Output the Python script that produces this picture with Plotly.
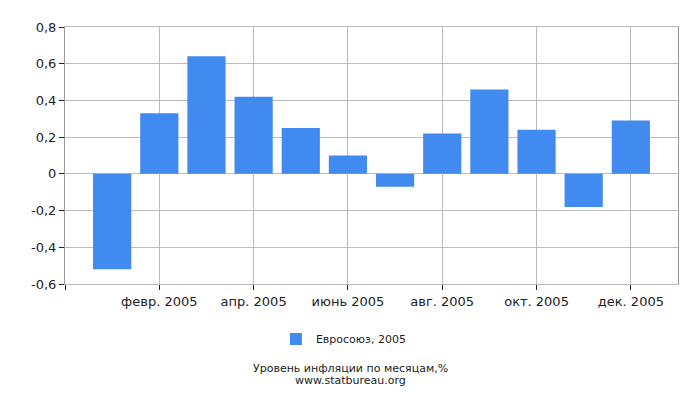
import plotly.graph_objects as go

# Monthly inflation, EU, 2005 (%)
months = ['янв. 2005', 'февр. 2005', 'март 2005', 'апр. 2005', 'май 2005', 'июнь 2005',
          'июль 2005', 'авг. 2005', 'сент. 2005', 'окт. 2005', 'нояб. 2005', 'дек. 2005']
values = [-0.52, 0.33, 0.64, 0.42, 0.25, 0.10, -0.07, 0.22, 0.46, 0.24, -0.18, 0.29]

y_ticks = [-0.6, -0.4, -0.2, 0, 0.2, 0.4, 0.6, 0.8]
y_ticktext = ['-0,6', '-0,4', '-0,2', '0', '0,2', '0,4', '0,6', '0,8']

series_name = 'Евросоюз, 2005'
bar_color = '#418bf0'
font_family = 'DejaVu Sans'

x_pos = list(range(len(months)))
x_ticks = [-1] + x_pos[1::2]
x_ticktext = [''] + months[1::2]

fig = go.Figure()
fig.add_trace(go.Bar(
    x=x_pos,
    y=values,
    name=series_name,
    marker=dict(color=bar_color, line=dict(width=0)),
    width=0.81,
    showlegend=True,
))

# page has an 8px body margin, so the figure is 16px smaller than the window
fig.update_layout(
    width=684,
    height=384,
    paper_bgcolor='white',
    plot_bgcolor='white',
    margin=dict(l=57, r=14, t=14, b=108),
    font=dict(family=font_family, size=13, color='#222222'),
    showlegend=True,
    legend=dict(
        orientation='h',
        x=0.455, xanchor='center',
        y=-0.214, yanchor='middle',
        font=dict(size=11),
        bgcolor='rgba(0,0,0,0)',
    ),
    xaxis=dict(
        range=[-1, 12],
        tickmode='array',
        tickvals=x_ticks,
        ticktext=x_ticktext,
        showgrid=True,
        gridcolor='#bbbbbb',
        gridwidth=1,
        showline=True,
        linecolor='#bbbbbb',
        mirror=True,
        ticks='outside',
        ticklen=5,
        tickcolor='#222222',
        zeroline=False,
        tickfont=dict(size=13),
    ),
    yaxis=dict(
        range=[-0.6, 0.8],
        tickmode='array',
        tickvals=y_ticks,
        ticktext=y_ticktext,
        showgrid=True,
        gridcolor='#bbbbbb',
        gridwidth=1,
        showline=True,
        linecolor='#999999',
        mirror=True,
        ticks='outside',
        ticklen=5,
        tickcolor='#222222',
        zeroline=True,
        zerolinecolor='#bbbbbb',
        zerolinewidth=1,
        tickfont=dict(size=13),
    ),
    annotations=[
        dict(
            text='Уровень инфляции по месяцам,%',
            xref='paper', yref='paper',
            x=0.465, y=-0.328,
            xanchor='center', yanchor='middle',
            showarrow=False,
            font=dict(size=11, color='#222222'),
        ),
        dict(
            text='www.statbureau.org',
            xref='paper', yref='paper',
            x=0.465, y=-0.376,
            xanchor='center', yanchor='middle',
            showarrow=False,
            font=dict(size=11, color='#222222'),
        ),
    ],
)

fig.write_html('out.html')
